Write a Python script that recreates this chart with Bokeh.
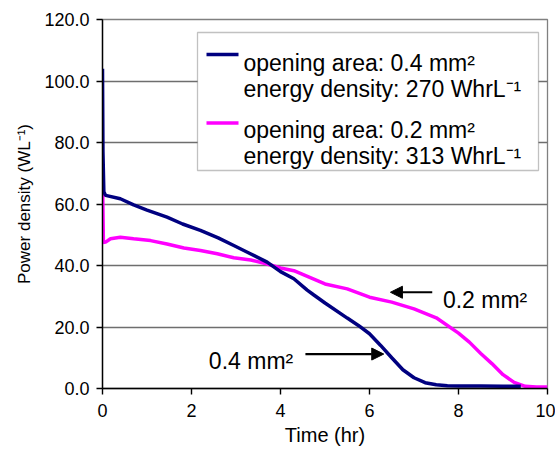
from bokeh.plotting import figure
from bokeh.models import (Range1d, FixedTicker, NumeralTickFormatter, Label,
                          Arrow, NormalHead, BoxAnnotation)
from bokeh.embed import file_html
from bokeh.resources import INLINE

# ---------------- data ----------------
time_04 = [0.0, 0.01, 0.03, 0.07, 0.4, 0.7, 1.0, 1.45, 1.8, 2.2, 2.6, 2.95,
           3.3, 3.7, 4.0, 4.3, 4.6, 4.75, 5.0, 5.5, 5.75, 6.0, 6.25, 6.5,
           6.75, 7.0, 7.25, 7.5, 7.75, 8.0, 8.5, 9.0, 9.4]
power_04 = [104.0, 77.0, 64.0, 62.8, 61.7, 59.7, 58.0, 55.7, 53.5, 51.4, 49.0,
            46.5, 44.0, 41.1, 38.0, 35.7, 32.0, 30.4, 27.8, 22.9, 20.5, 17.8,
            14.0, 10.0, 6.1, 3.5, 1.9, 1.2, 0.9, 0.8, 0.8, 0.7, 0.7]

time_02 = [0.0, 0.02, 0.07, 0.18, 0.4, 0.7, 1.08, 1.45, 1.83, 2.2, 2.58, 2.95,
           3.33, 3.7, 4.0, 4.3, 5.0, 5.5, 6.0, 6.5, 7.0, 7.5, 8.0, 8.25, 8.5,
           8.75, 9.0, 9.25, 9.5, 9.75, 10.0]
power_02 = [69.0, 47.5, 47.6, 48.7, 49.2, 48.7, 48.1, 47.0, 45.7, 44.9, 43.8,
            42.5, 41.8, 40.5, 39.2, 38.3, 34.0, 32.4, 29.7, 28.1, 25.9, 23.0,
            18.0, 15.0, 11.4, 8.1, 4.5, 2.0, 0.7, 0.5, 0.5]

x_ticks = [0, 2, 4, 6, 8, 10]
y_ticks = [0, 20, 40, 60, 80, 100, 120]

legend_04 = ["opening area: 0.4 mm\u00b2", "energy density: 270 WhrL\u207b\u00b9"]
legend_02 = ["opening area: 0.2 mm\u00b2", "energy density: 313 WhrL\u207b\u00b9"]

note_02 = "0.2 mm\u00b2"
note_04 = "0.4 mm\u00b2"
note_02_text_xy = (7.65, 28.8)
note_02_arrow = (7.41, 31.3, 6.47, 31.3)
note_04_text_xy = (2.39, 9.1)
note_04_arrow = (4.56, 11.2, 6.32, 11.2)

# ---------------- style ----------------
NAVY = "#000080"
MAGENTA = "#FF00FF"
FONT = "Liberation Sans"

p = figure(width=555, height=453, x_range=Range1d(0, 10), y_range=Range1d(0, 120),
           output_backend="svg", toolbar_location=None,
           min_border_left=102, min_border_top=19, min_border_right=8,
           min_border_bottom=65)
p.background_fill_color = "white"
p.border_fill_color = "white"
p.outline_line_color = "#808080"
p.outline_line_width = 1.3

p.xgrid.visible = False
p.ygrid.grid_line_color = "#6e6e6e"
p.ygrid.grid_line_width = 1.4
p.ygrid.ticker = FixedTicker(ticks=y_ticks)

for ax in (p.xaxis[0], p.yaxis[0]):
    ax.axis_line_color = "black"
    ax.axis_line_width = 1.4
    ax.major_tick_line_color = "black"
    ax.major_tick_line_width = 1.4
    ax.major_tick_out = 6
    ax.major_tick_in = 0
    ax.minor_tick_line_color = None
    ax.major_label_text_font = FONT
    ax.major_label_text_font_size = "18px"
    ax.major_label_text_color = "black"
    ax.axis_label_text_font = FONT
    ax.axis_label_text_font_style = "normal"
    ax.axis_label_text_color = "black"

p.xaxis.ticker = FixedTicker(ticks=x_ticks)
p.yaxis.ticker = FixedTicker(ticks=y_ticks)
p.yaxis.formatter = NumeralTickFormatter(format="0.0")
p.xaxis.axis_label = "Time (hr)"
p.yaxis.axis_label = "Power density (WL\u207b\u00b9)"
p.xaxis.axis_label_text_font_size = "20px"
p.yaxis.axis_label_text_font_size = "17px"
p.xaxis.major_label_standoff = 9
p.yaxis.major_label_standoff = 7
p.xaxis.axis_label_standoff = 4
p.yaxis.axis_label_standoff = 7

# data lines
p.line(time_02, power_02, line_color=MAGENTA, line_width=3.5)
p.line(time_04, power_04, line_color=NAVY, line_width=3.5)

# annotations with arrows
for txt, (tx, ty), (x0, y0, x1, y1) in ((note_02, note_02_text_xy, note_02_arrow),
                                        (note_04, note_04_text_xy, note_04_arrow)):
    p.add_layout(Arrow(x_start=x0, y_start=y0, x_end=x1, y_end=y1,
                       line_color="black", line_width=2.2,
                       end=NormalHead(size=12, fill_color="black", line_color="black")))
    p.add_layout(Label(x=tx, y=ty, text=txt, text_font=FONT, text_font_size="23px",
                       text_color="black", text_baseline="alphabetic"))

# legend (screen units relative to plot frame)
p.add_layout(BoxAnnotation(left=95, right=436, bottom=218, top=356,
                           left_units="screen", right_units="screen",
                           bottom_units="screen", top_units="screen",
                           fill_color="white", fill_alpha=1.0,
                           line_color="#333333", line_width=1.3))
for color, y_mark, lines, y_base in ((NAVY, 334, legend_04, 325.7),
                                     (MAGENTA, 265.5, legend_02, 258.7)):
    p.add_layout(Arrow(x_start=104, y_start=y_mark, x_end=136, y_end=y_mark,
                       start_units="screen", end_units="screen", end=None,
                       line_color=color, line_width=3.5))
    for i, t in enumerate(lines):
        p.add_layout(Label(x=141, y=y_base - 26 * i, x_units="screen", y_units="screen",
                           text=t, text_font=FONT, text_font_size="23px",
                           text_color="black", text_baseline="alphabetic"))

open("out.html", "w").write(file_html(p, INLINE))
